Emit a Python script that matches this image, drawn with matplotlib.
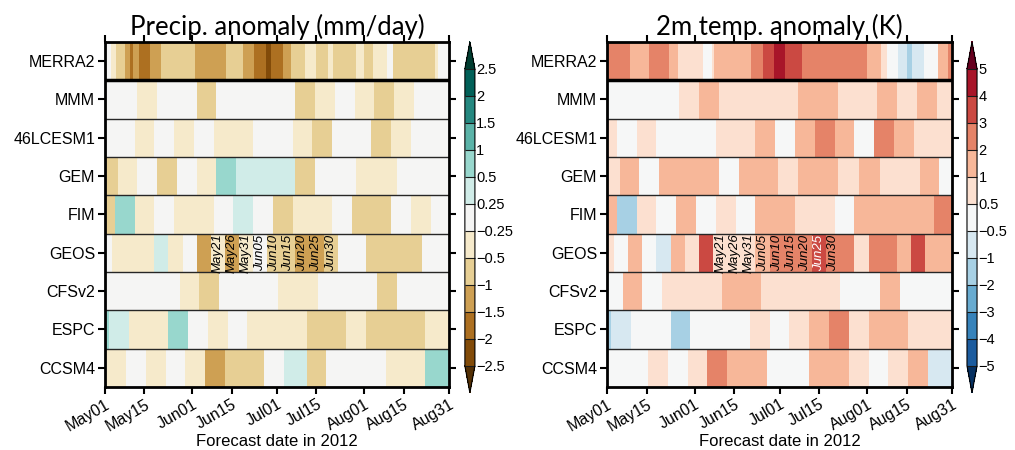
import numpy as np
import matplotlib
matplotlib.use('Agg')
import matplotlib.pyplot as plt
import matplotlib.dates as mdates
from matplotlib.colors import BoundaryNorm
import datetime as dt

plt.rcParams['font.family'] = ['Liberation Sans', 'DejaVu Sans']

models = ['MERRA2', 'MMM', '46LCESM1', 'GEM', 'FIM', 'GEOS', 'CFSv2', 'ESPC', 'CCSM4']
season_start = dt.date(2012, 5, 1)
season_days = 122

# cell edges in days since May01, values as read from the colour classes
# --- precipitation anomaly (mm/day)
pr_edges_merra2 = [0, 2, 4, 7, 9, 10, 12, 16, 20, 32, 43, 49, 53, 57, 59, 63, 66, 71, 75, 79, 81, 89, 92, 95, 100, 102, 117, 118, 122]
pr_merra2 = [0, -0.4, -0.75, -1.25, -1.75, -1.25, -1.75, -1.25, -0.75, -1.25, -0.75, -1.25, -1.75, -2.25,
             -1.75, -1.25, -0.75, -0.4, -0.75, -0.4, -0.75, -0.4, -0.75, -0.4, 0, -0.75, -0.4, 0]
pr_edges_mmm = [0, 11.5, 18.5, 32.5, 39.5, 67.5, 74.5, 81.5, 88.5, 95.5, 102.5, 109.5, 122]
pr_mmm = [0, -0.4, 0, -0.75, 0, -0.75, -0.4, 0, -0.4, -0.75, -0.4, 0]
pr_edges_46lcesm1 = [0, 10.5, 17.5, 24.5, 31.5, 38.5, 52.5, 66.5, 73.5, 80.5, 94.5, 101.5, 108.5, 122]
pr_46lcesm1 = [0, -0.4, 0, -0.4, 0, -0.4, 0, -0.4, -0.75, 0, -0.75, -0.4, 0]
pr_edges_gem = [0, 4.5, 11.5, 18.5, 25.5, 32.5, 39.5, 46.5, 67.5, 74.5, 89, 103.5, 122]
pr_gem = [-0.75, -0.4, 0, -0.75, 0, -0.4, 0.75, 0.4, -0.75, 0, -0.4, 0]
pr_edges_fim = [0, 3.5, 10.5, 17.5, 24.5, 38.5, 45.5, 52.5, 59.5, 66.5, 80.5, 87.5, 101.5, 108.5, 115.5, 122]
pr_fim = [-0.75, 0.75, -0.4, 0, -0.4, 0, 0.4, 0, -0.75, -0.4, 0, -0.75, 0, -0.4, 0]
pr_edges_geos = [0, 2.5, 17.5, 22.5, 27.5, 32.5, 37.5, 42.5, 47.5, 52.5, 57.5, 62.5, 67.5, 72.5, 77.5, 82.5, 92.5, 112.5, 122]
pr_geos = [0, -0.4, 0.4, -0.4, 0, -1.25, -0.4, -1.25, -0.4, 0, -0.75, -0.75, -1.25, -1.25, -0.75, 0, -0.75, 0]
pr_edges_cfsv2 = [0, 26.5, 33.5, 40.5, 61.5, 75.5, 96.5, 103.5, 122]
pr_cfsv2 = [0, -0.4, -0.75, 0, -0.4, 0, -0.75, 0]
pr_edges_espc = [0, 1.5, 8.5, 22.5, 29.5, 36.5, 43.5, 50.5, 71.5, 85.5, 92.5, 113.5, 122]
pr_espc = [0.75, 0.4, -0.4, 0.75, 0, -0.4, 0, -0.4, -0.75, -0.4, -0.75, -0.4]
pr_edges_ccsm4 = [0, 7.5, 14.5, 21.5, 28.5, 35.5, 42.5, 56.5, 63.5, 71.5, 78.5, 99.5, 113.5, 122]
pr_ccsm4 = [-0.4, 0, -0.4, 0, -0.4, -1.25, -0.75, 0, 0.4, -0.75, 0, -0.4, 0.75]

# --- 2m temperature anomaly (K)
t2_edges_merra2 = [0, 8, 15, 22, 25, 34, 37, 38, 51, 55, 59, 63, 69, 92, 97, 99, 103, 106, 108, 112, 117, 120.5, 122]
t2_merra2 = [2.5, 1.5, 2.5, 1.5, 0.75, 0, 0.75, 1.5, 2.5, 3.5, 4.5, 3.5, 2.5, 1.5, 0.75, 0, -0.75, -1.5, -0.75, 0, 1.5, 2.5]
t2_edges_mmm = [0, 25.5, 32.5, 39.5, 67.5, 81.5, 95.5, 102.5, 109.5, 116.5, 122]
t2_mmm = [0, 0.75, 1.5, 0.75, 1.5, 0.75, 1.5, 0.75, 1.5, 0.75]
t2_edges_46lcesm1 = [0, 3.5, 10.5, 17.5, 38.5, 52.5, 59.5, 66.5, 73.5, 80.5, 87.5, 94.5, 101.5, 108.5, 122]
t2_46lcesm1 = [0.75, 0, 0.75, 0, 0.75, 1.5, 0, 1.5, 2.5, 1.5, 0, 2.5, 1.5, 0.75]
t2_edges_gem = [0, 4.5, 11.5, 18.5, 39.5, 46.5, 60.5, 67.5, 81.5, 89, 96.5, 110.5, 117.5, 122]
t2_gem = [0.75, 1.5, 0, 1.5, 0, 1.5, 0.75, 1.5, 0.75, 1.5, 0.75, 1.5, 0]
t2_edges_fim = [0, 3.5, 10.5, 17.5, 24.5, 31.5, 38.5, 45.5, 52.5, 66.5, 80.5, 87.5, 115.5, 122]
t2_fim = [1.5, -1.5, 0.75, 0, 1.5, 0, 0.75, 0, 1.5, 0.75, 0, 1.5, 2.5]
t2_edges_geos = [0, 2.5, 7.5, 12.5, 17.5, 22.5, 27.5, 32.5, 37.5, 52.5, 57.5, 72.5, 77.5, 87.5, 92.5, 102.5, 107.5, 112.5, 122]
t2_geos = [0.75, 0, 1.5, 0, -0.75, 1.5, 0.75, 3.5, 0.75, 1.5, 2.5, 3.5, 2.5, 0.75, 2.5, 1.5, 3.5, 1.5]
t2_edges_cfsv2 = [0, 5.5, 12.5, 19.5, 40.5, 54.5, 82.5, 96.5, 103.5, 122]
t2_cfsv2 = [0, 1.5, 0, 0.75, 1.5, 0.75, 0, 1.5, 0]
t2_edges_espc = [0, 1.5, 8.5, 22.5, 29.5, 50.5, 57.5, 64.5, 71.5, 78.5, 85.5, 92.5, 106.5, 122]
t2_espc = [-1.5, -0.75, 0, -1.5, 0, 0.75, 0, 0.75, 1.5, 2.5, 0.75, 1.5, 0.75]
t2_edges_ccsm4 = [0, 14.5, 21.5, 28.5, 35.5, 42.5, 56.5, 71.5, 85.5, 92.5, 99.5, 106.5, 113.5, 122]
t2_ccsm4 = [0, 0.75, 0, 0.75, 2.5, 1.5, 0, 1.5, 0.75, 0, 0.75, 1.5, -0.75]

pr_levels = [-2.5, -2, -1.5, -1, -0.5, -0.25, 0.25, 0.5, 1, 1.5, 2, 2.5]
t2_levels = [-5, -4, -3, -2, -1, -0.5, 0.5, 1, 2, 3, 4, 5]

# GEOS initialisation dates written into the GEOS row, lead of 20 days
geos_inits = ['May21', 'May26', 'May31', 'Jun05', 'Jun10', 'Jun15', 'Jun20', 'Jun25', 'Jun30']
geos_lead = 20

tick_dates = ['2012-05-01', '2012-05-15', '2012-06-01', '2012-06-15', '2012-07-01',
              '2012-07-15', '2012-08-01', '2012-08-15', '2012-08-31']

pr_rows = [(pr_edges_merra2, pr_merra2), (pr_edges_mmm, pr_mmm), (pr_edges_46lcesm1, pr_46lcesm1),
           (pr_edges_gem, pr_gem), (pr_edges_fim, pr_fim), (pr_edges_geos, pr_geos),
           (pr_edges_cfsv2, pr_cfsv2), (pr_edges_espc, pr_espc), (pr_edges_ccsm4, pr_ccsm4)]
t2_rows = [(t2_edges_merra2, t2_merra2), (t2_edges_mmm, t2_mmm), (t2_edges_46lcesm1, t2_46lcesm1),
           (t2_edges_gem, t2_gem), (t2_edges_fim, t2_fim), (t2_edges_geos, t2_geos),
           (t2_edges_cfsv2, t2_cfsv2), (t2_edges_espc, t2_espc), (t2_edges_ccsm4, t2_ccsm4)]

t0 = mdates.date2num(season_start)

fig = plt.figure(figsize=(10.15, 4.5), dpi=100)
ax_pr = fig.add_axes([0.1034, 0.14, 0.339, 0.7667])
ax_t2 = fig.add_axes([0.598, 0.14, 0.340, 0.7667])
cax_pr = fig.add_axes([0.458, 0.127, 0.0099, 0.78])
cax_t2 = fig.add_axes([0.9527, 0.127, 0.0099, 0.78])


def draw_panel(ax, cax, rows, levels, cmap, title):
    norm = BoundaryNorm(levels, ncolors=256, extend='both')
    mesh = None
    for i, (edges, vals) in enumerate(rows):
        x = t0 + np.asarray(edges, dtype=float)
        mesh = ax.pcolormesh(x, [i, i + 1], np.array([vals]), cmap=cmap, norm=norm,
                             shading='flat', antialiased=False, edgecolor='none')
    for i in range(2, len(rows)):
        ax.axhline(i, color='0.15', lw=1.0)
    ax.axhline(1, color='k', lw=2.5)

    # GEOS initialisation labels
    gi = models.index('GEOS')
    g_edges, g_vals = rows[gi]
    for lab in geos_inits:
        d = mdates.date2num(dt.datetime.strptime('2012' + lab, '%Y%b%d')) + geos_lead
        k = np.searchsorted(np.asarray(g_edges) + t0, d) - 1
        col = 'white' if abs(g_vals[k]) >= 3 else 'black'
        ax.text(d, gi + 0.5, lab, rotation=90, ha='center', va='center', fontsize=9.5,
                style='italic', color=col)

    ax.set_ylim(len(rows), 0)
    ax.set_xlim(t0, t0 + season_days)
    ax.set_yticks(np.arange(len(rows)) + 0.5)
    ax.set_yticklabels(models, fontsize=11.5)
    ax.set_xticks([mdates.datestr2num(d) for d in tick_dates])
    ax.xaxis.set_major_formatter(mdates.DateFormatter('%b%d'))
    for lab in ax.get_xticklabels():
        lab.set_rotation(30)
        lab.set_ha('right')
        lab.set_rotation_mode('anchor')
        lab.set_fontsize(11.5)
    ax.tick_params(direction='out', length=5, width=1.5, top=True, right=True,
                   labeltop=False, labelright=False, pad=2)
    for s in ax.spines.values():
        s.set_linewidth(2)
    ax.set_xlabel('Forecast date in 2012', fontsize=12, labelpad=0)
    ax.set_title(title, fontsize=18.5, family=['Lato', 'DejaVu Sans'], pad=5)

    cb = fig.colorbar(mesh, cax=cax, extend='both', extendfrac='auto', drawedges=True,
                      ticks=levels)
    cb.set_ticklabels([f'{v:g}'.replace('-', '\u2212') for v in levels])
    cb.ax.tick_params(length=0, labelsize=10.5, pad=1)
    cb.outline.set_linewidth(0.8)
    cb.dividers.set_linewidth(0.8)
    cb.dividers.set_color('0.1')


draw_panel(ax_pr, cax_pr, pr_rows, pr_levels, 'BrBG', 'Precip. anomaly (mm/day)')
draw_panel(ax_t2, cax_t2, t2_rows, t2_levels, 'RdBu_r', '2m temp. anomaly (K)')

fig.savefig('out.png', dpi=100)
